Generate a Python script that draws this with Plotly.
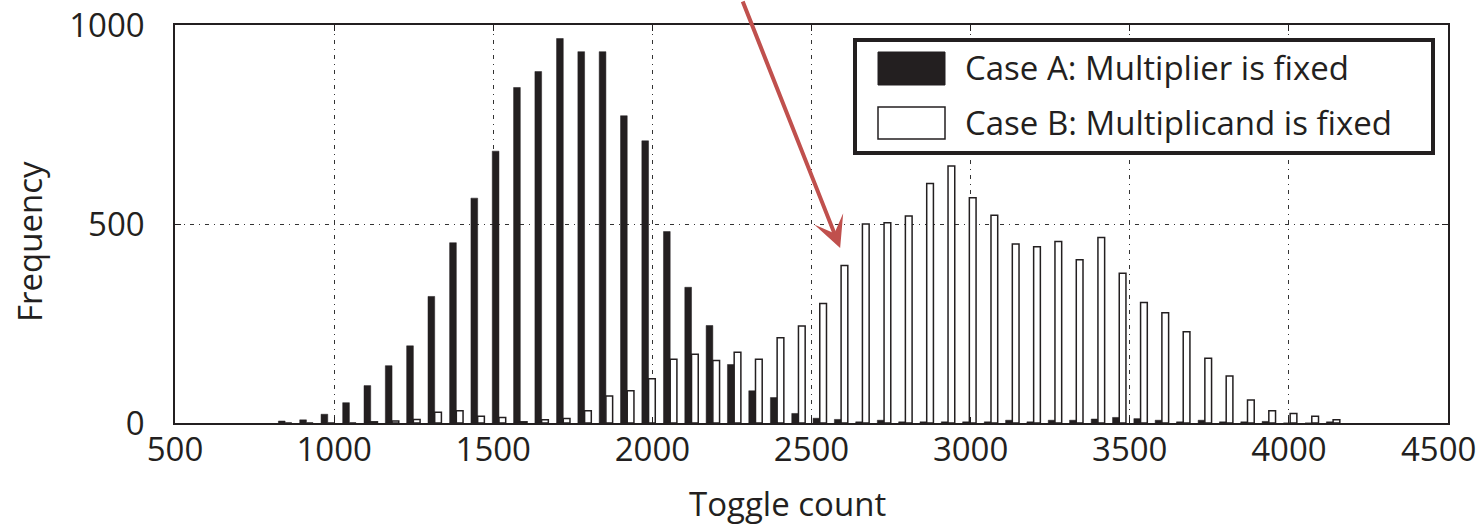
import plotly.graph_objects as go

# Bin centers (toggle count)
bin_centers = [846, 913, 980, 1048, 1115, 1182, 1249, 1316, 1384, 1451,
               1518, 1585, 1652, 1720, 1787, 1854, 1921, 1988, 2056, 2123,
               2190, 2257, 2324, 2392, 2459, 2526, 2593, 2660, 2728, 2795,
               2862, 2929, 2996, 3064, 3131, 3198, 3265, 3332, 3400, 3467,
               3534, 3601, 3668, 3736, 3803, 3870, 3937, 4004, 4072, 4139]

case_a = [5, 8, 22, 51, 94, 144, 194, 318, 453, 565,
          683, 843, 883, 966, 933, 933, 772, 709, 481, 341,
          245, 147, 81, 64, 24, 12, 9, 3, 7, 3,
          3, 3, 3, 3, 7, 3, 7, 7, 10, 14,
          11, 7, 3, 7, 3, 3, 4, 0, 0, 3]

case_b = [0, 0, 0, 0, 3, 5, 9, 27, 31, 17,
          14, 3, 8, 11, 31, 68, 81, 111, 160, 173,
          157, 178, 160, 214, 244, 300, 396, 500, 503, 520,
          602, 646, 566, 522, 450, 443, 456, 410, 466, 376,
          303, 277, 229, 163, 118, 58, 31, 24, 17, 8]

name_a = "Case A: Multiplier is fixed"
name_b = "Case B: Multiplicand is fixed"
x_ticks = [500, 1000, 1500, 2000, 2500, 3000, 3500, 4000, 4500]
x_ticktext = ["500", "1000", "1500", "2000", "2500", "3000", "3500", "4000", ""]
last_x_label = "4500"
y_ticks = [0, 500, 1000]

INK = "#231f20"
FONT = "Open Sans"
FS = 33

fig = go.Figure()
fig.add_trace(go.Bar(x=bin_centers, y=case_a, name=name_a,
                     marker=dict(color=INK, line=dict(color=INK, width=0.5))))
fig.add_trace(go.Bar(x=bin_centers, y=case_b, name=name_b,
                     marker=dict(color="white", line=dict(color=INK, width=1.5))))

fig.update_layout(
    width=1482, height=525,
    margin=dict(l=175, r=34, t=25, b=102, autoexpand=False),
    paper_bgcolor="white", plot_bgcolor="white",
    barmode="group", bargap=0.37, bargroupgap=0.0,
    showlegend=False,
    font=dict(family=FONT, size=FS, color=INK),
)

fig.update_xaxes(range=[500, 4500], tickvals=x_ticks, ticktext=x_ticktext,
                 showline=True, linecolor=INK, linewidth=1.5, mirror="ticks",
                 ticks="inside", ticklen=6, tickcolor=INK,
                 showgrid=True, gridcolor="#333333", gridwidth=1, griddash="4px,5px,1px,5px",
                 zeroline=False, ticklabelstandoff=-3, automargin=False,
                 ticklabeloverflow="allow",
                 tickfont=dict(family=FONT, size=FS, color=INK))
fig.update_yaxes(range=[0, 1000], tickvals=y_ticks, ticktext=[str(v) for v in y_ticks],
                 showline=True, linecolor=INK, linewidth=1.5, mirror="ticks",
                 ticks="inside", ticklen=6, tickcolor=INK,
                 showgrid=True, gridcolor="#333333", gridwidth=1, griddash="4px,5px,1px,5px",
                 zeroline=False, ticklabelstandoff=22, automargin=False,
                 ticklabeloverflow="allow",
                 tickfont=dict(family=FONT, size=FS, color=INK))

def px_x(p):
    return (p - 175) / 1273.0

def px_y(p):
    return (423 - p) / 398.0

# Last x tick label, kept inside the page
fig.add_annotation(text=last_x_label, xref="paper", yref="paper",
                   x=px_x(1478), y=px_y(448), xanchor="right", yanchor="middle",
                   showarrow=False, font=dict(family=FONT, size=FS, color=INK))

# Axis titles
fig.add_annotation(text="Toggle count", xref="paper", yref="paper",
                   x=0.481, y=-0.2035, xanchor="center", yanchor="middle",
                   showarrow=False, font=dict(family=FONT, size=FS, color=INK))
fig.add_annotation(text="Frequency", xref="paper", yref="paper",
                   x=-0.1139, y=0.4548, xanchor="center", yanchor="middle",
                   textangle=-90, showarrow=False, font=dict(family=FONT, size=FS, color=INK))

# Legend box (drawn manually to match large swatches)
fig.add_shape(type="rect", xref="paper", yref="paper",
              x0=px_x(855), x1=px_x(1433), y0=px_y(153), y1=px_y(40),
              line=dict(color=INK, width=4), fillcolor="white", layer="above")
fig.add_shape(type="rect", xref="paper", yref="paper",
              x0=px_x(878), x1=px_x(945), y0=px_y(85), y1=px_y(52),
              line=dict(color=INK, width=1), fillcolor=INK, layer="above")
fig.add_shape(type="rect", xref="paper", yref="paper",
              x0=px_x(878), x1=px_x(945), y0=px_y(139), y1=px_y(107),
              line=dict(color=INK, width=1.5), fillcolor="white", layer="above")
fig.add_annotation(text=name_a, xref="paper", yref="paper",
                   x=px_x(963), y=px_y(68), xanchor="left", yanchor="middle",
                   showarrow=False, font=dict(family=FONT, size=FS, color=INK))
fig.add_annotation(text=name_b, xref="paper", yref="paper",
                   x=px_x(963), y=px_y(122), xanchor="left", yanchor="middle",
                   showarrow=False, font=dict(family=FONT, size=FS, color=INK))

# Red arrow
fig.add_annotation(text="", x=2590, y=440, xref="x", yref="y",
                   ax=-98, ay=-250, axref="pixel", ayref="pixel",
                   showarrow=True, arrowhead=3, arrowsize=1.3, arrowwidth=4,
                   arrowcolor="#c0504d")

fig.write_html("out.html")
